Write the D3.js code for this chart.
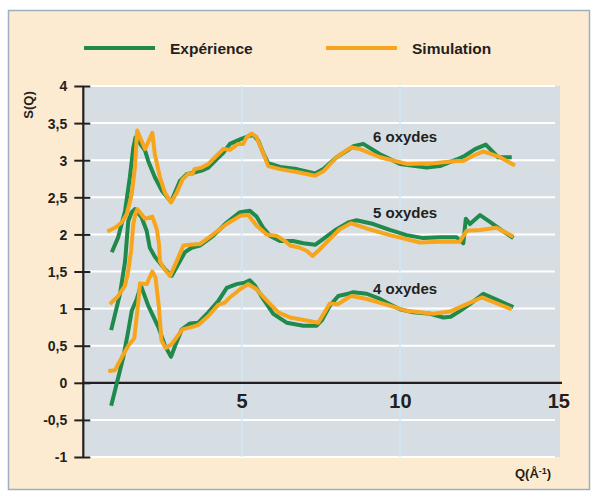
<!DOCTYPE html>
<html><head><meta charset="utf-8">
<script src="https://cdn.jsdelivr.net/npm/d3@7"></script>
<style>
html,body{margin:0;padding:0;background:#fff;}
text{font-family:"Liberation Sans",Arial,sans-serif;font-weight:bold;fill:#231f20;}
</style></head>
<body><svg id="c" width="595" height="497"></svg>
<script>
// ---- data ----
const yTicks = [-1, -0.5, 0, 0.5, 1, 1.5, 2, 2.5, 3, 3.5, 4];
const yTickLabels = ["-1", "-0,5", "0", "0,5", "1", "1,5", "2", "2,5", "3", "3,5", "4"];
const xTicks = [5, 10, 15];
const seriesNames = ["Expérience", "Simulation"];
const groupLabels = ["6 oxydes", "5 oxydes", "4 oxydes"];
const groupLabelS = [3.25, 2.22, 1.2];

const exp6Q = [0.90,1.10,1.32,1.47,1.58,1.65,1.95,2.05,2.26,2.48,2.77,3.05,3.26,3.47,3.74,3.95,4.16,4.42,4.63,4.95,5.26,5.37,5.53,5.68,5.84,6.21,6.74,7.32,7.58,8.0,8.37,8.53,8.84,9.37,10.0,10.84,11.26,11.79,12.05,12.37,12.71,13.1,13.53];
const exp6S = [1.76,1.96,2.32,2.77,3.17,3.31,3.13,2.99,2.77,2.59,2.44,2.72,2.81,2.83,2.86,2.90,2.99,3.10,3.22,3.28,3.33,3.34,3.26,3.10,2.96,2.91,2.88,2.82,2.88,3.04,3.14,3.19,3.22,3.08,2.95,2.90,2.92,3.01,3.06,3.15,3.21,3.04,3.04];
const sim6Q = [0.76,1.0,1.21,1.37,1.53,1.63,1.70,1.95,2.18,2.26,2.42,2.58,2.77,2.95,3.13,3.32,3.44,3.51,3.74,3.95,4.16,4.42,4.63,4.89,5.05,5.16,5.32,5.47,5.63,5.84,6.21,6.74,7.32,7.58,8.0,8.37,8.47,8.74,9.37,10.21,11.05,11.79,12.0,12.31,12.63,13.16,13.63];
const sim6S = [2.04,2.09,2.16,2.27,2.54,2.90,3.40,3.15,3.37,3.08,2.77,2.56,2.43,2.56,2.74,2.82,2.81,2.88,2.90,2.95,3.04,3.15,3.14,3.22,3.22,3.31,3.36,3.31,3.15,2.92,2.88,2.84,2.79,2.85,3.04,3.15,3.17,3.15,3.04,2.95,2.96,2.99,2.99,3.06,3.12,3.04,2.93];

const exp5Q = [0.88,1.16,1.32,1.42,1.53,1.63,1.84,2.0,2.1,2.26,2.58,2.79,3.0,3.21,3.42,3.68,4.1,4.53,4.95,5.26,5.47,5.68,5.9,6.21,6.63,6.95,7.32,7.58,8.0,8.37,8.63,9.16,9.68,10.21,10.74,11.26,11.79,12.0,12.08,12.21,12.53,12.84,13.16,13.58];
const exp5S = [0.71,1.20,1.64,2.18,2.30,2.34,2.23,2.05,1.82,1.70,1.53,1.44,1.60,1.76,1.82,1.85,1.98,2.16,2.30,2.32,2.24,2.09,1.98,1.91,1.91,1.88,1.86,1.94,2.07,2.16,2.19,2.14,2.06,1.99,1.95,1.96,1.96,1.88,2.21,2.14,2.26,2.17,2.07,1.95];
const sim5Q = [0.84,1.1,1.32,1.42,1.51,1.58,1.66,1.71,1.95,2.18,2.32,2.39,2.42,2.53,2.74,2.95,3.16,3.37,3.68,4.1,4.53,4.95,5.21,5.47,5.79,6.11,6.37,6.53,6.84,7.05,7.24,7.47,7.79,8.1,8.45,8.95,9.68,10.63,11.26,11.88,12.11,12.53,13.05,13.58];
const sim5S = [1.06,1.17,1.31,1.51,1.78,2.14,2.30,2.34,2.21,2.24,2.07,1.87,1.64,1.55,1.44,1.64,1.85,1.86,1.87,2.0,2.14,2.25,2.26,2.12,2.0,1.98,1.91,1.85,1.82,1.78,1.71,1.80,1.94,2.07,2.15,2.08,1.99,1.89,1.90,1.90,2.05,2.06,2.09,1.97];

const exp4Q = [0.88,1.05,1.26,1.42,1.53,1.69,1.82,2.05,2.37,2.58,2.77,2.9,3.11,3.37,3.63,3.95,4.26,4.53,4.84,5.1,5.26,5.42,5.68,6.0,6.42,6.95,7.37,7.53,7.79,8.05,8.37,8.53,8.95,9.37,9.68,10.0,10.42,10.95,11.37,11.6,11.9,12.21,12.63,13.1,13.58];
const exp4S = [-0.31,-0.02,0.34,0.70,0.97,1.13,1.31,1.04,0.75,0.50,0.35,0.50,0.72,0.80,0.81,0.95,1.10,1.28,1.33,1.35,1.38,1.31,1.13,0.93,0.81,0.77,0.77,0.84,1.04,1.17,1.20,1.22,1.20,1.13,1.06,0.99,0.95,0.93,0.88,0.89,0.97,1.06,1.20,1.11,1.02];
const sim4Q = [0.79,1.0,1.21,1.42,1.61,1.74,1.79,2.0,2.18,2.28,2.39,2.47,2.6,2.79,3.13,3.42,3.63,3.95,4.26,4.47,4.63,4.95,5.21,5.47,5.79,6.16,6.53,7.05,7.42,7.79,8.05,8.37,8.47,8.95,9.68,10.21,11.05,11.58,12.11,12.58,13.53];
const sim4S = [0.16,0.17,0.34,0.50,0.60,1.10,1.34,1.33,1.50,1.42,1.01,0.57,0.47,0.52,0.72,0.75,0.78,0.90,1.05,1.08,1.15,1.26,1.33,1.26,1.11,0.95,0.88,0.84,0.81,1.07,1.06,1.15,1.17,1.13,1.04,0.97,0.93,0.96,1.06,1.15,0.99];

// ---- chart ----
const green = "#1f8a4c", orange = "#f7a51c";
const svg = d3.select("#c");
svg.append("rect").attr("x",8.5).attr("y",10.5).attr("width",581).attr("height",479)
  .attr("fill","#fdebd1").attr("stroke","#9eb0bf").attr("stroke-width",1.5);

const x = d3.scaleLinear().domain([0,15]).range([83.3,558.3]);
const y = d3.scaleLinear().domain([-1,4]).range([457,86]);

// plot background
svg.append("rect").attr("x",x(0)).attr("y",y(4)).attr("width",560-x(0)).attr("height",y(-1)-y(4)).attr("fill","#d6dee3");

// white horizontal grid
svg.append("g").selectAll("line").data(yTicks.filter(d=>d!==0)).join("line")
  .attr("x1",x(0)).attr("x2",555).attr("y1",d=>y(d)).attr("y2",d=>y(d))
  .attr("stroke","#ffffff").attr("stroke-width",2);
// vertical light blue grid
svg.append("g").selectAll("line").data(xTicks.filter(d=>d<15)).join("line")
  .attr("x1",d=>x(d)).attr("x2",d=>x(d)).attr("y1",y(4)).attr("y2",y(-1))
  .attr("stroke","#cde9f6").attr("stroke-width",1.5);

// y axis
const yAxis = d3.axisLeft(y).tickValues(yTicks).tickSize(0).tickFormat((d,i)=>yTickLabels[i]);
const gy = svg.append("g").attr("transform",`translate(${x(0)},0)`).call(yAxis);
gy.select(".domain").remove();
gy.selectAll("text").attr("x",-16).attr("dy","0.35em").style("font-size","14px").style("font-family","Liberation Sans, Arial, sans-serif").style("font-weight","bold").attr("fill","#231f20");
gy.selectAll(".tick").append("line").attr("x1",-9).attr("x2",7).attr("stroke","#231f20").attr("stroke-width",2);
svg.append("line").attr("x1",x(0)).attr("x2",x(0)).attr("y1",y(4)).attr("y2",y(-1)).attr("stroke","#231f20").attr("stroke-width",2.2);

// x axis at y=0
const xAxis = d3.axisBottom(x).tickValues(xTicks).tickSize(0).tickFormat(d3.format("d"));
const gx = svg.append("g").attr("transform",`translate(0,${y(0)})`).call(xAxis);
gx.select(".domain").remove();
gx.selectAll("text").attr("y",11).attr("dy","0.71em").style("font-size","20px").style("font-family","Liberation Sans, Arial, sans-serif").style("font-weight","bold").attr("fill","#231f20");
svg.append("line").attr("x1",x(0)).attr("x2",562).attr("y1",y(0)).attr("y2",y(0)).attr("stroke","#231f20").attr("stroke-width",2.2);

// series
const line = d3.line().x(d=>x(d[0])).y(d=>y(d[1]));
const zip = (q,s)=>q.map((v,i)=>[v,s[i]]);
const expSeries = [zip(exp6Q,exp6S), zip(exp5Q,exp5S), zip(exp4Q,exp4S)];
const simSeries = [zip(sim6Q,sim6S), zip(sim5Q,sim5S), zip(sim4Q,sim4S)];
const lines = svg.append("g").attr("fill","none").attr("stroke-width",4).attr("stroke-linejoin","round");
expSeries.forEach(s=>lines.append("path").attr("d",line(s)).attr("stroke",green));
simSeries.forEach(s=>lines.append("path").attr("d",line(s)).attr("stroke",orange));

// group labels
svg.append("g").selectAll("text").data(groupLabels).join("text")
  .attr("x",373).attr("y",(d,i)=>y(groupLabelS[i])).style("font-size","15px").text(d=>d);

// axis titles
svg.append("text").attr("transform","translate(33,105) rotate(-90)").attr("text-anchor","middle")
  .style("font-size","13px").text("S(Q)");
const qt = svg.append("text").attr("x",515).attr("y",478).style("font-size","13px");
qt.append("tspan").text("Q(Å");
qt.append("tspan").attr("dy",-4).style("font-size","9px").text("-1");
qt.append("tspan").attr("dy",4).text(")");

// legend
const legX = [84, 326];
const legC = [green, orange];
seriesNames.forEach((n,i)=>{
  svg.append("line").attr("x1",legX[i]).attr("x2",legX[i]+71).attr("y1",48).attr("y2",48).attr("stroke",legC[i]).attr("stroke-width",4);
  svg.append("text").attr("x",legX[i]+86).attr("y",53.5).style("font-size","15.5px").text(n);
});
</script></body></html>
